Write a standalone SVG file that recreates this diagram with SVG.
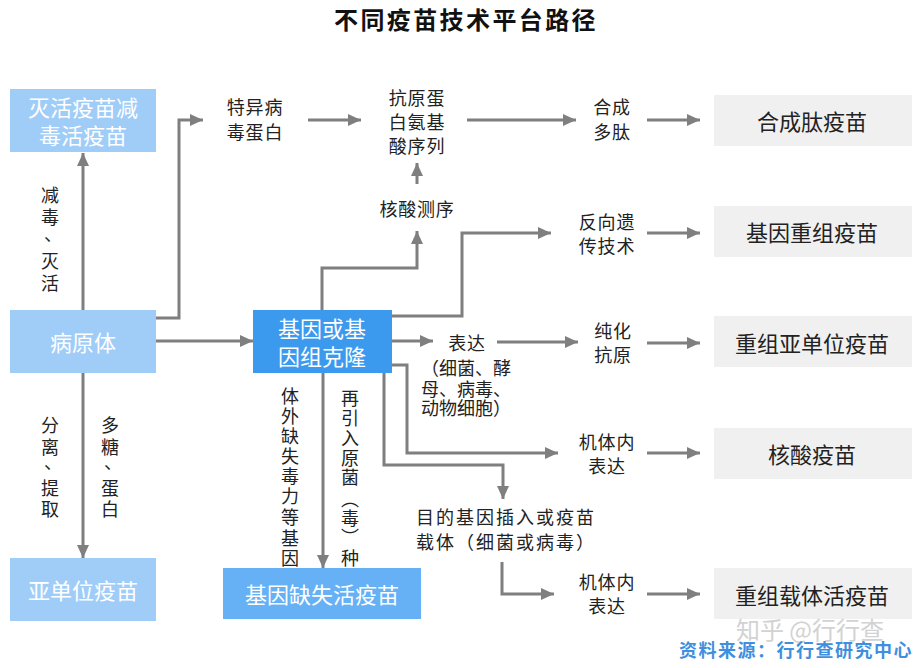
<svg xmlns="http://www.w3.org/2000/svg" width="922" height="668" viewBox="0 0 922 668">
<defs>
<marker id="ah" markerUnits="userSpaceOnUse" markerWidth="13" markerHeight="12" refX="13" refY="6" orient="auto">
<path d="M0,0 L13,6 L0,12 z" fill="#7f7f7f"/>
</marker>
<style>
text{font-family:"Noto Sans CJK SC","Noto Sans",sans-serif;dominant-baseline:central}
.t{font-size:18px;fill:#222;text-anchor:middle;letter-spacing:0.8px}
.ts{font-size:18px;fill:#222}
.v{font-size:18px;fill:#222;text-anchor:middle}
.nw{font-size:22px;fill:#fff;text-anchor:middle}
.ng{font-size:22px;fill:#222;text-anchor:middle}
.lb{fill:#9fcdf8}
.db{fill:#3c9aee}
.mb{fill:#66b1f6}
.gb{fill:#f0f0f0}
.c path{fill:none;stroke:#7f7f7f;stroke-width:3;marker-end:url(#ah)}
</style>
</defs>
<rect width="922" height="668" fill="#fff"/>
<text x="466" y="18" style="font-size:24px;font-weight:bold;fill:#111;text-anchor:middle;letter-spacing:2.4px">不同疫苗技术平台路径</text>

<g id="connectors" class="c">
<path d="M83,310 V153"/>
<path d="M155,318 H179 V120 H203"/>
<path d="M155,341 H253"/>
<path d="M83,373 V558"/>
<path d="M308,120 H361"/>
<path d="M417,184 V163"/>
<path d="M322,310 V268 H417 V231"/>
<path d="M391,316 H462 V233 H551"/>
<path d="M467,120 H576"/>
<path d="M647,120 H700"/>
<path d="M647,233 H700"/>
<path d="M391,341 H433"/>
<path d="M497,342 H578"/>
<path d="M647,343 H700"/>
<path d="M391,365 H407 V453 H558"/>
<path d="M647,453 H700"/>
<path d="M384,372 V465 H503 V499"/>
<path d="M502,562 V594 H554"/>
<path d="M647,594 H700"/>
<path d="M323,373 V568"/>
</g>

<g id="n-miehuo"><rect class="lb" x="10" y="89" width="146" height="63"/><text class="nw" x="83" y="106">灭活疫苗减</text><text class="nw" x="83" y="134">毒活疫苗</text></g>
<g id="n-bingyuanti"><rect class="lb" x="10" y="310" width="146" height="63"/><text class="nw" x="83" y="341">病原体</text></g>
<g id="n-yadanwei"><rect class="lb" x="10" y="558" width="146" height="63"/><text class="nw" x="83" y="589">亚单位疫苗</text></g>
<g id="n-jiyin"><rect class="db" x="253" y="310" width="139" height="63"/><text class="nw" x="322" y="327">基因或基</text><text class="nw" x="322" y="355">因组克隆</text></g>
<g id="n-quexi"><rect class="mb" x="223" y="568" width="198" height="51"/><text class="nw" x="322" y="593">基因缺失活疫苗</text></g>

<g id="n-teyi"><text class="t" x="255" y="106">特异病</text><text class="t" x="255" y="131">毒蛋白</text></g>
<g id="n-kangyuan"><text class="t" x="417" y="97">抗原蛋</text><text class="t" x="417" y="121">白氨基</text><text class="t" x="417" y="145">酸序列</text></g>
<g id="n-cexu"><text class="t" x="417" y="208">核酸测序</text></g>
<g id="n-hecheng"><text class="t" x="612" y="106">合成</text><text class="t" x="612" y="131">多肽</text></g>
<g id="n-fanxiang"><text class="t" x="607" y="221">反向遗</text><text class="t" x="607" y="245">传技术</text></g>
<g id="n-biaoda"><text class="t" x="467" y="342">表达</text><text class="ts" x="421" y="367">（细菌、酵</text><text class="ts" x="421" y="388">母、病毒、</text><text class="ts" x="421" y="407">动物细胞）</text></g>
<g id="n-chunhua"><text class="t" x="613" y="330">纯化</text><text class="t" x="613" y="354">抗原</text></g>
<g id="n-jiti1"><text class="t" x="607" y="441">机体内</text><text class="t" x="607" y="465">表达</text></g>
<g id="n-mude"><text class="t" x="416" y="516" style="text-anchor:start;letter-spacing:2px">目的基因插入或疫苗</text><text class="t" x="416" y="541" style="text-anchor:start;letter-spacing:2px">载体（细菌或病毒）</text></g>
<g id="n-jiti2"><text class="t" x="607" y="581">机体内</text><text class="t" x="607" y="605">表达</text></g>

<g id="n-v1"><text class="v"><tspan x="50" y="194">减</tspan><tspan x="50" y="216">毒</tspan><tspan x="53" y="233">、</tspan><tspan x="50" y="260">灭</tspan><tspan x="50" y="282">活</tspan></text></g>
<g id="n-v2"><text class="v"><tspan x="50" y="424">分</tspan><tspan x="50" y="446">离</tspan><tspan x="53" y="461">、</tspan><tspan x="50" y="487">提</tspan><tspan x="50" y="508">取</tspan></text></g>
<g id="n-v3"><text class="v"><tspan x="110" y="424">多</tspan><tspan x="110" y="446">糖</tspan><tspan x="113" y="461">、</tspan><tspan x="110" y="487">蛋</tspan><tspan x="110" y="508">白</tspan></text></g>
<g id="n-v4"><text class="v"><tspan x="290" y="395">体</tspan><tspan x="290" y="415">外</tspan><tspan x="290" y="435">缺</tspan><tspan x="290" y="455">失</tspan><tspan x="290" y="475">毒</tspan><tspan x="290" y="495">力</tspan><tspan x="290" y="516">等</tspan><tspan x="290" y="537">基</tspan><tspan x="290" y="557">因</tspan></text></g>
<g id="n-v5"><text class="v"><tspan x="350" y="397">再</tspan><tspan x="350" y="417">引</tspan><tspan x="350" y="437">入</tspan><tspan x="350" y="457">原</tspan><tspan x="350" y="476">菌</tspan><tspan x="350" y="498">︵</tspan><tspan x="350" y="517">毒</tspan><tspan x="350" y="536">︶</tspan><tspan x="350" y="557">种</tspan></text></g>

<g id="n-g1"><rect class="gb" x="714" y="95" width="198" height="51"/><text class="ng" x="812" y="120">合成肽疫苗</text></g>
<g id="n-g2"><rect class="gb" x="714" y="206" width="198" height="51"/><text class="ng" x="812" y="231">基因重组疫苗</text></g>
<g id="n-g3"><rect class="gb" x="714" y="316" width="198" height="51"/><text class="ng" x="812" y="342">重组亚单位疫苗</text></g>
<g id="n-g4"><rect class="gb" x="714" y="428" width="198" height="51"/><text class="ng" x="812" y="453">核酸疫苗</text></g>
<g id="n-g5"><rect class="gb" x="714" y="568" width="198" height="51"/><text class="ng" x="812" y="594">重组载体活疫苗</text></g>

<text x="810" y="628" style="font-size:24px;fill:#d2d2d2;text-anchor:middle">知乎 @行行查</text>
<text x="796" y="649" style="font-size:18px;font-weight:bold;fill:#3f8fde;text-anchor:middle;letter-spacing:1.5px">资料来源：行行查研究中心</text>
</svg>
